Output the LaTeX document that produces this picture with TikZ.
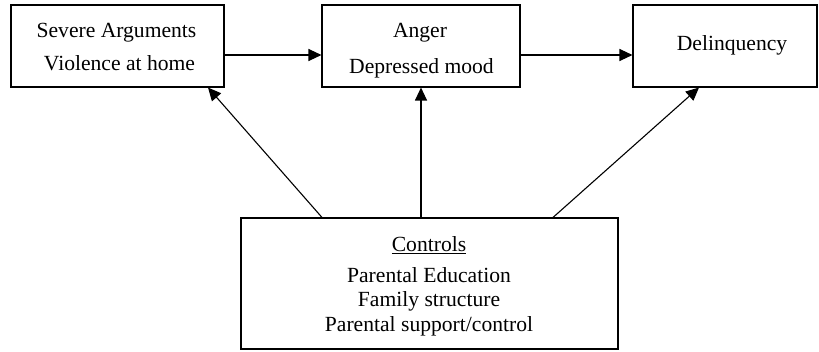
\documentclass[tikz,border=0pt]{standalone}
\usepackage{fontspec}
\setmainfont{Liberation Serif}
\usetikzlibrary{arrows.meta}
\tikzset{
  boxnode/.style={draw=black, line width=1.1pt, inner sep=0pt, minimum height=82pt},
  txt/.style={anchor=base, inner sep=0pt, font=\fontsize{21.6}{26}\selectfont},
  arr/.style={line width=1.1pt, -{Triangle[length=13pt,width=12pt]}}
}
\begin{document}
\begin{tikzpicture}[x=1pt, y=-1pt]
\useasboundingbox[fill=white] (0,0) rectangle (819,352);
% boxes
\node[boxnode, minimum width=213pt] (b1) at (117.5,46) {};
\node[boxnode, minimum width=198pt] (b2) at (421,46) {};
\node[boxnode, minimum width=184pt] (b3) at (725,46) {};
\node[boxnode, minimum width=377pt, minimum height=131pt] (ctrl) at (429.5,283.5) {};
% texts
\node[txt] (t1a) at (116.5,38) {Severe Arguments};
\node[txt] (t1b) at (119.5,71) {Violence at home};
\node[txt] (t2a) at (420,37.3) {Anger};
\node[txt] (t2b) at (421.5,74) {Depressed mood};
\node[txt] (t3a) at (732,50.5) {Delinquency};
\node[txt] (c0) at (429,252) {\underline{Controls}};
\node[txt] (c1) at (429,282.7) {Parental Education};
\node[txt] (c2) at (429,306.7) {Family structure};
\node[txt] (c3) at (429,331.7) {Parental support/control};
% horizontal arrows
\draw[arr] ([yshift=-9pt]b1.east) -- ([yshift=-9pt]b1.east -| b2.west);
\draw[arr] ([yshift=-9pt]b2.east) -- ([yshift=-9pt]b2.east -| b3.west);
% arrows from controls
\draw[arr] ([xshift=-107.5pt]ctrl.north) -- ([xshift=90.5pt]b1.south);
\draw[arr] (ctrl.north -| b2.south) -- (b2.south);
\draw[arr] ([xshift=123.5pt]ctrl.north) -- ([xshift=-26pt]b3.south);
\end{tikzpicture}
\end{document}
